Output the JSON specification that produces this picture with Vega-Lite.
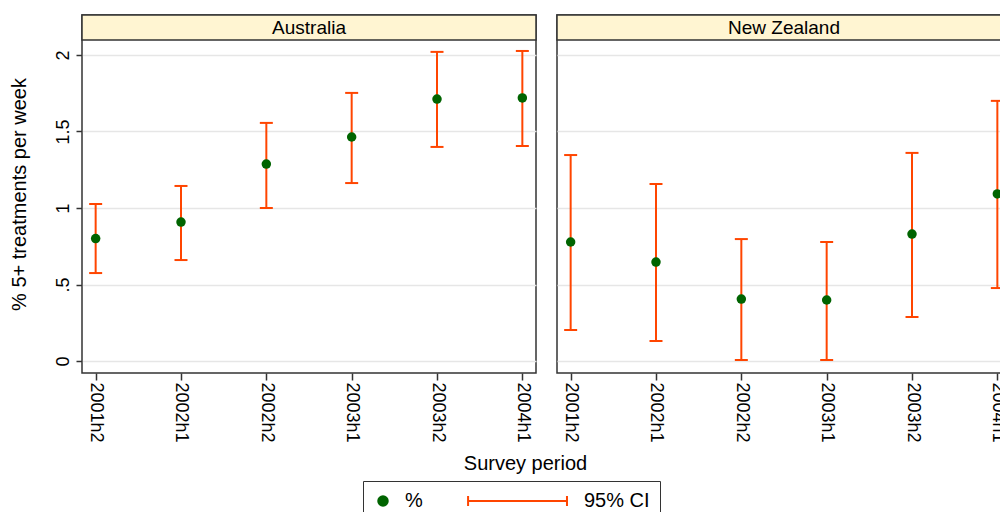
{
  "$schema": "https://vega.github.io/schema/vega-lite/v6.json",
  "padding": {"top": 13, "left": 8, "right": 0, "bottom": 0},
  "background": "white",
  "bounds": "flush",
  "spacing": 21,
  "data": {"values": [
    {"country": "Australia", "period": "2001h2", "pct": 0.80, "lo": 0.575, "hi": 1.026},
    {"country": "Australia", "period": "2002h1", "pct": 0.908, "lo": 0.66, "hi": 1.144},
    {"country": "Australia", "period": "2002h2", "pct": 1.287, "lo": 1.0, "hi": 1.556},
    {"country": "Australia", "period": "2003h1", "pct": 1.464, "lo": 1.163, "hi": 1.752},
    {"country": "Australia", "period": "2003h2", "pct": 1.712, "lo": 1.399, "hi": 2.02},
    {"country": "Australia", "period": "2004h1", "pct": 1.719, "lo": 1.405, "hi": 2.026},
    {"country": "New Zealand", "period": "2001h2", "pct": 0.778, "lo": 0.203, "hi": 1.346},
    {"country": "New Zealand", "period": "2002h1", "pct": 0.647, "lo": 0.131, "hi": 1.157},
    {"country": "New Zealand", "period": "2002h2", "pct": 0.405, "lo": 0.007, "hi": 0.797},
    {"country": "New Zealand", "period": "2003h1", "pct": 0.399, "lo": 0.007, "hi": 0.778},
    {"country": "New Zealand", "period": "2003h2", "pct": 0.83, "lo": 0.288, "hi": 1.36},
    {"country": "New Zealand", "period": "2004h1", "pct": 1.092, "lo": 0.477, "hi": 1.70}
  ]},
  "resolve": {"scale": {"y": "shared", "x": "shared", "color": "shared", "shape": "shared"}},
  "hconcat": [
    {
      "width": 454,
      "height": 358,
      "transform": [{"filter": "datum.country == 'Australia'"}],
      "encoding": {
        "x": {"field": "period", "type": "ordinal", "scale": {"type": "point", "padding": 0.16},
              "axis": {"title": "Survey period", "titleX": 443, "titleY": 90, "titleBaseline": "middle", "titleAlign": "center",
                       "titleFontSize": 20, "titleFontWeight": "normal", "titleColor": "black",
                       "labelAngle": 90, "labelFontSize": 18, "labelColor": "black", "tickSize": 7, "tickColor": "#333", "tickWidth": 1.5, "domain": false, "grid": false, "labelPadding": 2}}
      },
      "layer": [
        {
          "transform": [{"aggregate": [{"op": "count", "as": "n"}], "groupby": ["country"]}],
          "mark": {"type": "rect", "fill": "#FFF5D2", "stroke": "#333", "strokeWidth": 1.5},
          "encoding": {"x": null, "y": {"datum": 2.098, "type": "quantitative"}, "y2": {"datum": 2.261}}
        },
        {
          "transform": [{"aggregate": [{"op": "count", "as": "n"}], "groupby": ["country"]}],
          "mark": {"type": "text", "fontSize": 19, "font": "Liberation Sans", "color": "black", "baseline": "middle", "dy": 1},
          "encoding": {"x": null, "y": {"datum": 2.18, "type": "quantitative"}, "text": {"field": "country"}}
        },
        {
          "mark": {"type": "rule", "strokeWidth": 2},
          "encoding": {"y": {"field": "lo", "type": "quantitative"}, "y2": {"field": "hi"}, "color": {"datum": "95% CI", "type": "nominal"}}
        },
        {
          "mark": {"type": "tick", "thickness": 2, "size": 13, "opacity": 1},
          "encoding": {"y": {"field": "lo", "type": "quantitative"}, "color": {"datum": "95% CI", "type": "nominal"}}
        },
        {
          "mark": {"type": "tick", "thickness": 2, "size": 13, "opacity": 1},
          "encoding": {"y": {"field": "hi", "type": "quantitative"}, "color": {"datum": "95% CI", "type": "nominal"}}
        },
        {
          "mark": {"type": "point", "filled": true, "size": 90, "opacity": 1},
          "encoding": {
            "y": {"field": "pct", "type": "quantitative",
                  "scale": {"domain": [-0.078, 2.261], "nice": false, "zero": false},
                  "axis": {"title": "% 5+ treatments per week", "values": [0, 0.5, 1, 1.5, 2],
                           "labelExpr": "datum.value == 0.5 ? '.5' : toString(datum.value)",
                           "labelAngle": -90, "labelFontSize": 18, "labelColor": "black", "labelPadding": 4,
                           "tickSize": 6, "tickColor": "#333", "tickWidth": 1.5, "domain": false,
                           "grid": true, "gridColor": "#E6E6E6", "gridWidth": 1.5,
                           "titleFontSize": 20, "titleFontWeight": "normal", "titleColor": "black", "titlePadding": 25}},
            "color": {"datum": "%", "type": "nominal", "scale": {"domain": ["%", "95% CI"], "range": ["#006400", "#FF4500"]}},
            "shape": {"datum": "%", "type": "nominal", "scale": {"domain": ["%", "95% CI"], "range": ["circle", "M-19.8,0H1.05M-19.8,-1.05V1.05M1.05,-1.05V1.05"]}}
          }
        }
      ]
    },
    {
      "width": 454,
      "height": 358,
      "transform": [{"filter": "datum.country == 'New Zealand'"}],
      "encoding": {
        "x": {"field": "period", "type": "ordinal", "scale": {"type": "point", "padding": 0.16},
              "axis": {"title": null, "labelAngle": 90, "labelFontSize": 18, "labelColor": "black", "tickSize": 7, "tickColor": "#333", "tickWidth": 1.5, "domain": false, "grid": false, "labelPadding": 2}}
      },
      "layer": [
        {
          "transform": [{"aggregate": [{"op": "count", "as": "n"}], "groupby": ["country"]}],
          "mark": {"type": "rect", "fill": "#FFF5D2", "stroke": "#333", "strokeWidth": 1.5},
          "encoding": {"x": null, "y": {"datum": 2.098, "type": "quantitative"}, "y2": {"datum": 2.261}}
        },
        {
          "transform": [{"aggregate": [{"op": "count", "as": "n"}], "groupby": ["country"]}],
          "mark": {"type": "text", "fontSize": 19, "font": "Liberation Sans", "color": "black", "baseline": "middle", "dy": 1},
          "encoding": {"x": null, "y": {"datum": 2.18, "type": "quantitative"}, "text": {"field": "country"}}
        },
        {
          "mark": {"type": "rule", "strokeWidth": 2},
          "encoding": {"y": {"field": "lo", "type": "quantitative"}, "y2": {"field": "hi"}, "color": {"datum": "95% CI", "type": "nominal"}}
        },
        {
          "mark": {"type": "tick", "thickness": 2, "size": 13, "opacity": 1},
          "encoding": {"y": {"field": "lo", "type": "quantitative"}, "color": {"datum": "95% CI", "type": "nominal"}}
        },
        {
          "mark": {"type": "tick", "thickness": 2, "size": 13, "opacity": 1},
          "encoding": {"y": {"field": "hi", "type": "quantitative"}, "color": {"datum": "95% CI", "type": "nominal"}}
        },
        {
          "mark": {"type": "point", "filled": true, "size": 90, "opacity": 1},
          "encoding": {
            "y": {"field": "pct", "type": "quantitative",
                  "scale": {"domain": [-0.078, 2.261], "nice": false, "zero": false},
                  "axis": {"title": null, "values": [0, 0.5, 1, 1.5, 2], "labels": false, "ticks": false, "domain": false,
                           "grid": true, "gridColor": "#E6E6E6", "gridWidth": 1.5}},
            "color": {"datum": "%", "type": "nominal", "scale": {"domain": ["%", "95% CI"], "range": ["#006400", "#FF4500"]}},
            "shape": {"datum": "%", "type": "nominal", "scale": {"domain": ["%", "95% CI"], "range": ["circle", "M-19.8,0H1.05M-19.8,-1.05V1.05M1.05,-1.05V1.05"]}}
          }
        }
      ]
    }
  ],
  "config": {
    "font": "Liberation Sans",
    "view": {"stroke": "#333", "strokeWidth": 1.5},
    "axis": {"labelFont": "Liberation Sans", "titleFont": "Liberation Sans"},
    "legend": {"title": null, "orient": "none", "legendX": 281, "legendY": 466, "direction": "horizontal",
               "padding": 10, "strokeColor": "#333", "symbolSize": 90, "symbolStrokeWidth": 2,
               "labelFontSize": 20, "labelFont": "Liberation Sans", "labelColor": "black", "labelOffset": 12,
               "columnPadding": 41, "symbolOpacity": 1}
  }
}
